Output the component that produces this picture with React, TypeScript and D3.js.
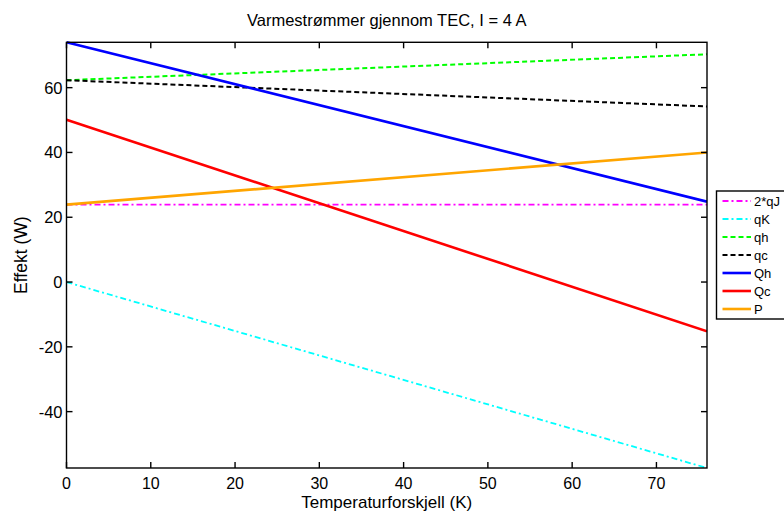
import React from "react";
import * as d3 from "d3";

const xEnds = [0, 76];
const seriesNames = ["2*qJ", "qK", "qh", "qc", "Qh", "Qc", "P"];
const qJ2 = [23.9, 23.9];
const qK = [0, -57.4];
const qh = [62.3, 70.3];
const qc = [62.3, 54.2];
const Qh = [74.0, 24.8];
const Qc = [50.1, -15.2];
const P = [23.9, 40.0];
const xTicks = [0, 10, 20, 30, 40, 50, 60, 70];
const yTicks = [-40, -20, 0, 20, 40, 60];

const seriesValues = [qJ2, qK, qh, qc, Qh, Qc, P];
const colors = ["#ff00ff", "#00ffff", "#00ff00", "#000000", "#0000ff", "#ff0000", "#ffa500"];
const dashes = ["6,3,2,3", "6,3,2,3", "5,3", "5,3", null, null, null];
const widths = [1.8, 1.8, 2, 2, 2.6, 2.6, 2.6];

export default function App() {
  const W = 784, H = 511;
  const L = 66.5, R = 707, T = 42.3, B = 468;
  const x = d3.scaleLinear().domain([0, 76]).range([L, R]);
  const y = d3.scaleLinear().domain([-57.4, 74.0]).range([B, T]);
  const line = d3.line<[number, number]>().x(d => x(d[0])).y(d => y(d[1]));
  const font = "Liberation Sans, Arial, sans-serif";
  const tl = 6;
  const legX = 716.5, legY = 191, legStep = 18;

  return (
    <svg width={W} height={H} style={{ position: "absolute", left: 0, top: 0, background: "#fff" }} fontFamily={font}>
      <rect x={0} y={0} width={W} height={H} fill="#fff" />
      <defs>
        <clipPath id="pc"><rect x={L} y={T - 2} width={R - L} height={B - T + 4} /></clipPath>
      </defs>
      <g clipPath="url(#pc)">
        {seriesValues.map((vals, i) => (
          <path key={i} d={line(xEnds.map((xv, j) => [xv, vals[j]] as [number, number])) || ""}
            fill="none" stroke={colors[i]} strokeWidth={widths[i]}
            strokeDasharray={dashes[i] || undefined} />
        ))}
      </g>
      <rect x={L} y={T} width={R - L} height={B - T} fill="none" stroke="#000" strokeWidth={1.4} />
      {xTicks.map(t => (
        <g key={"x" + t}>
          <line x1={x(t)} x2={x(t)} y1={B} y2={B - tl} stroke="#000" strokeWidth={1.4} />
          <line x1={x(t)} x2={x(t)} y1={T} y2={T + tl} stroke="#000" strokeWidth={1.4} />
          <text x={x(t)} y={488.5} textAnchor="middle" fontSize={16}>{t}</text>
        </g>
      ))}
      {yTicks.map(t => (
        <g key={"y" + t}>
          <line x1={L} x2={L + tl} y1={y(t)} y2={y(t)} stroke="#000" strokeWidth={1.4} />
          <line x1={R} x2={R - tl} y1={y(t)} y2={y(t)} stroke="#000" strokeWidth={1.4} />
          <text x={62.5} y={y(t)} dy="0.36em" textAnchor="end" fontSize={16.5}>{t}</text>
        </g>
      ))}
      <text x={(L + R) / 2} y={26} textAnchor="middle" fontSize={16.5}>Varmestrømmer gjennom TEC, I = 4 A</text>
      <text x={(L + R) / 2} y={507.5} textAnchor="middle" fontSize={17}>Temperaturforskjell (K)</text>
      <text transform={`translate(27,${(T + B) / 2}) rotate(-90)`} textAnchor="middle" fontSize={17.5}>Effekt (W)</text>
      <rect x={legX} y={legY} width={W - legX + 10} height={128} fill="#fff" stroke="#000" strokeWidth={1.4} />
      {seriesNames.map((n, i) => {
        const ly = legY + 10 + i * legStep;
        return (
          <g key={n}>
            <line x1={722.5} x2={751} y1={ly} y2={ly} stroke={colors[i]} strokeWidth={widths[i]}
              strokeDasharray={dashes[i] || undefined} />
            <text x={754} y={ly} dy="0.36em" fontSize={13}>{n}</text>
          </g>
        );
      })}
    </svg>
  );
}
